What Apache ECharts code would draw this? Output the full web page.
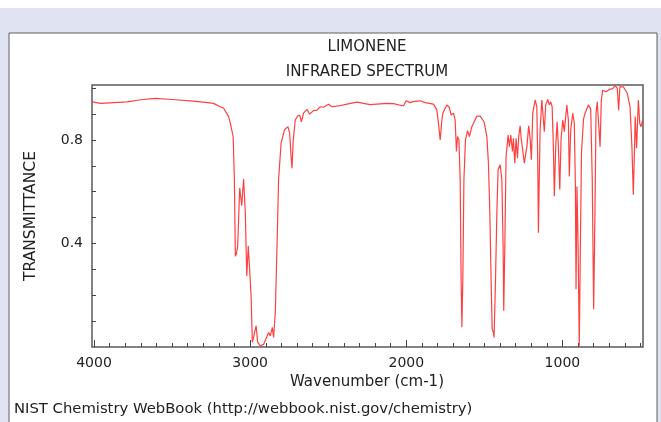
<!DOCTYPE html>
<html>
<head>
<meta charset="utf-8">
<script src="https://cdn.jsdelivr.net/npm/echarts@6/dist/echarts.min.js"></script>
<style>
html, body { margin: 0; padding: 0; background: #fff; }
#ir { width: 661px; height: 422px; }
</style>
</head>
<body>
<div id="ir"></div>
<script>
// spectrum, wavenumber (cm-1) -> transmittance
let wavenumber = [4012, 3958, 3788, 3700, 3607, 3500, 3383, 3300, 3235, 3191, 3171, 3138, 3127, 3109, 3101, 3097, 3095, 3088, 3080, 3067,
    3054, 3042, 3031, 3022, 3012, 3005, 2994, 2986, 2978, 2962, 2952, 2935, 2914, 2882, 2871, 2858, 2850, 2839, 2828, 2818,
    2802, 2781, 2758, 2747, 2738, 2732, 2724, 2711, 2696, 2683, 2672, 2658, 2636, 2619, 2594, 2572, 2551, 2530, 2498, 2476,
    2434, 2380, 2316, 2274, 2231, 2124, 2082, 2018, 2001, 1975, 1949, 1911, 1879, 1826, 1804, 1794, 1783, 1772, 1766, 1751,
    1740, 1724, 1713, 1698, 1687, 1679, 1672, 1663, 1655, 1649, 1644, 1638, 1631, 1621, 1608, 1596, 1580, 1548, 1527, 1502,
    1484, 1474, 1465, 1457, 1450, 1442, 1438, 1429, 1420, 1412, 1399, 1388, 1380, 1376, 1369, 1361, 1348, 1340, 1331, 1320,
    1314, 1305, 1297, 1288, 1280, 1271, 1263, 1244, 1228, 1216, 1207, 1199, 1190, 1175, 1164, 1158, 1154, 1150, 1143, 1132,
    1122, 1116, 1107, 1094, 1084, 1075, 1066, 1058, 1052, 1043, 1034, 1026, 1017, 1009, 998, 988, 972, 962, 956, 947,
    934, 924, 917, 913, 907, 900, 892, 885, 878, 865, 855, 834, 819, 809, 800, 791, 785, 777, 768, 759,
    751, 742, 721, 700, 678, 663, 649, 640, 632, 610, 585, 567, 555, 546, 537, 534, 525, 514, 505, 497, 486]
let transmittance = [0.947, 0.941, 0.947, 0.955, 0.960, 0.956, 0.951, 0.946, 0.941, 0.928, 0.923, 0.890, 0.865, 0.813, 0.646, 0.450, 0.351, 0.360, 0.390, 0.614,
    0.546, 0.649, 0.518, 0.274, 0.390, 0.390, 0.197, 0.018, 0.020, 0.082, 0.018, 0.005, 0.010, 0.056, 0.043, 0.076, 0.037, 0.133, 0.390, 0.646,
    0.787, 0.838, 0.851, 0.826, 0.736, 0.691, 0.800, 0.877, 0.892, 0.896, 0.870, 0.903, 0.918, 0.900, 0.913, 0.915, 0.928, 0.926, 0.938, 0.928,
    0.931, 0.938, 0.946, 0.941, 0.936, 0.941, 0.940, 0.931, 0.951, 0.944, 0.949, 0.951, 0.944, 0.938, 0.915, 0.864, 0.800, 0.877, 0.903, 0.922,
    0.935, 0.925, 0.896, 0.903, 0.877, 0.755, 0.813, 0.800, 0.646, 0.262, 0.076, 0.262, 0.646, 0.800, 0.836, 0.813, 0.851, 0.892, 0.892, 0.870,
    0.813, 0.710, 0.518, 0.262, 0.069, 0.056, 0.037, 0.250, 0.518, 0.685, 0.704, 0.646, 0.390, 0.140, 0.390, 0.736, 0.819, 0.774, 0.819, 0.755,
    0.806, 0.710, 0.806, 0.729, 0.813, 0.854, 0.800, 0.710, 0.774, 0.854, 0.806, 0.723, 0.903, 0.954, 0.928, 0.710, 0.441, 0.600, 0.838, 0.954,
    0.954, 0.832, 0.935, 0.956, 0.935, 0.947, 0.928, 0.774, 0.582, 0.774, 0.870, 0.774, 0.608, 0.800, 0.877, 0.832, 0.935, 0.877, 0.659, 0.838,
    0.903, 0.864, 0.620, 0.223, 0.620, 0.400, 0.005, 0.400, 0.750, 0.880, 0.903, 0.935, 0.920, 0.646, 0.146, 0.550, 0.903, 0.947, 0.940, 0.774,
    0.954, 0.992, 0.986, 0.995, 0.998, 1.010, 1.000, 0.915, 1.005, 1.005, 0.980, 0.928, 0.774, 0.588, 0.800, 0.890, 0.768, 0.954, 0.864, 0.851, 0.877]

let xLabels = [4000, 3000, 2000, 1000]
let yLabels = [0.4, 0.8]
let yTicks = [0.1, 0.2, 0.3, 0.4, 0.5, 0.6, 0.7, 0.8, 0.9, 1.0]
let xMinor = []
for (let w = 500; w <= 4000; w += 100) xMinor.push(w)

let font = 'DejaVu Sans'
let points = wavenumber.map((w, i) => [w, transmittance[i]])

let chart = echarts.init(document.getElementById('ir'))
let option = {
    animation: false,
    backgroundColor: '#ffffff',
    textStyle: {fontFamily: font},
    grid: {
        left: 92, right: 18, top: 85, bottom: 75,
        show: true, borderColor: '#5a5a5a', borderWidth: 1.5
    },
    graphic: [
        {type: 'rect', z: -10, shape: {x: 0, y: 8, width: 661, height: 414}, style: {fill: '#dfe3f2'}},
        {type: 'rect', z: -9, shape: {x: 9, y: 33, width: 648, height: 400}, style: {fill: '#ffffff', stroke: '#5e5e5e', lineWidth: 1}},
        {type: 'text', x: 367, y: 47, style: {text: 'LIMONENE', font: '15px ' + font, fill: '#222', align: 'center', verticalAlign: 'middle'}},
        {type: 'text', x: 367, y: 72, style: {text: 'INFRARED SPECTRUM', font: '15px ' + font, fill: '#222', align: 'center', verticalAlign: 'middle'}},
        {type: 'text', x: 367, y: 382, style: {text: 'Wavenumber (cm-1)', font: '15px ' + font, fill: '#222', align: 'center', verticalAlign: 'middle'}},
        {type: 'text', x: 31, y: 216, rotation: Math.PI / 2, style: {text: 'TRANSMITTANCE', font: '15.5px ' + font, fill: '#222', align: 'center', verticalAlign: 'middle'}},
        {type: 'text', x: 14, y: 409, style: {text: 'NIST Chemistry WebBook (http://webbook.nist.gov/chemistry)', font: '14.8px ' + font, fill: '#222', align: 'left', verticalAlign: 'middle'}}
    ],
    xAxis: [
        {
            type: 'value', inverse: true, min: 484, max: 4013,
            splitLine: {show: false},
            axisLine: {show: false},
            axisTick: {show: true, inside: true, length: 4, customValues: xMinor, lineStyle: {color: '#444', width: 1}},
            axisLabel: {customValues: xLabels, margin: 9, fontSize: 14, color: '#222', fontFamily: font, formatter: v => String(v)}
        },
        {
            type: 'value', inverse: true, min: 484, max: 4013, position: 'bottom',
            splitLine: {show: false},
            axisLine: {show: false},
            axisTick: {show: true, inside: true, length: 7, customValues: xLabels, lineStyle: {color: '#444', width: 1}},
            axisLabel: {show: false}
        }
    ],
    yAxis: {
        type: 'value', min: 0, max: 1.012,
        splitLine: {show: false},
        axisLine: {show: false},
        axisTick: {show: true, inside: true, length: 4, customValues: yTicks, lineStyle: {color: '#444', width: 1}},
        axisLabel: {customValues: yLabels, margin: 9, fontSize: 14, color: '#222', fontFamily: font, formatter: v => String(v)}
    },
    series: [
        {
            type: 'line',
            data: points,
            showSymbol: false,
            lineStyle: {color: '#ff4040', width: 1.2},
            z: 5
        }
    ]
}
chart.setOption(option)
</script>
</body>
</html>
